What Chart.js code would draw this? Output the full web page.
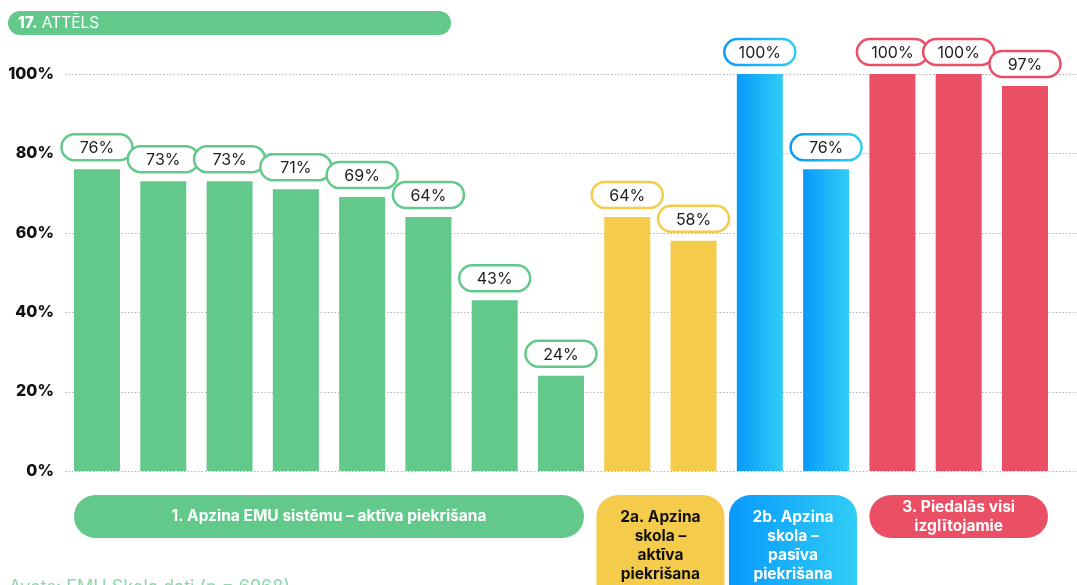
<!DOCTYPE html>
<html>
<head>
<meta charset="utf-8">
<script src="https://cdn.jsdelivr.net/npm/chart.js@4/dist/chart.umd.min.js"></script>
<style>
  html,body{margin:0;padding:0;background:#fff;overflow:hidden;}
  #wrap{position:relative;width:1077px;height:585px;}
  #c{position:absolute;left:0;top:0;}
  #title{position:absolute;left:8px;top:11px;width:443px;height:24px;border-radius:12px;background:#63c98b;color:#fff;
    font-family:Inter,"Noto Sans",sans-serif;font-size:15.5px;line-height:24px;padding-left:10px;box-sizing:border-box;}
  #title b{font-weight:800;}
  #src{position:absolute;left:9px;top:578px;font-family:Inter,"Noto Sans",sans-serif;font-size:18px;line-height:18px;color:#8fd7ab;white-space:nowrap;}
</style>
</head>
<body>
<div id="wrap">
  <canvas id="c" width="1077" height="585"></canvas>
  <div id="title"><b>17.</b> ATTĒLS</div>
  <div id="src">Avots: EMU Skola dati (n = 6968)</div>
</div>
<script>
// ---- data ----
const groupNames = [
  ['1. Apzina EMU sistēmu – aktīva piekrišana'],
  ['2a. Apzina', 'skola –', 'aktīva', 'piekrišana'],
  ['2b. Apzina', 'skola –', 'pasīva', 'piekrišana'],
  ['3. Piedalās visi', 'izglītojamie']
];
const group1Values = [76, 73, 73, 71, 69, 64, 43, 24];
const group2aValues = [64, 58];
const group2bValues = [100, 76];
const group3Values = [100, 100, 97];
const yTicks = [0, 20, 40, 60, 80, 100];

// ---- styles ----
const groupStyles = [
  {fill: '#63c98b', border: '#63c98b', text: '#ffffff'},
  {fill: '#f5cb4b', border: '#f5cb4b', text: '#111111'},
  {fill: ['#0899fb', '#30cdf5'], border: '#1aa6f8', text: '#ffffff'},
  {fill: '#eb4f65', border: '#eb4f65', text: '#ffffff'}
];
const groupValueSets = [group1Values, group2aValues, group2bValues, group3Values];

const values = [];
const categories = [];
const barGroup = [];
groupValueSets.forEach((arr, g) => arr.forEach((v, k) => {
  values.push(v);
  categories.push('G' + (g + 1) + '-' + (k + 1));
  barGroup.push(g);
}));

const BAR_PCT = 0.694;
const FONT = 'Inter, "Noto Sans", sans-serif';

function barFill(c) {
  const st = groupStyles[barGroup[c.dataIndex]];
  if (!Array.isArray(st.fill)) return st.fill;
  const xs = c.chart.scales.x;
  if (!xs || !xs.width) return st.fill[0];
  const cx = xs.getPixelForValue(c.dataIndex);
  const half = xs.width / categories.length * BAR_PCT / 2;
  const g = c.chart.ctx.createLinearGradient(cx - half, 0, cx + half, 0);
  g.addColorStop(0, st.fill[0]);
  g.addColorStop(1, st.fill[1]);
  return g;
}

function roundRect(ctx, x, y, w, h, r) {
  ctx.beginPath();
  ctx.moveTo(x + r, y);
  ctx.lineTo(x + w - r, y);
  ctx.arcTo(x + w, y, x + w, y + r, r);
  ctx.lineTo(x + w, y + h - r);
  ctx.arcTo(x + w, y + h, x + w - r, y + h, r);
  ctx.lineTo(x + r, y + h);
  ctx.arcTo(x, y + h, x, y + h - r, r);
  ctx.lineTo(x, y + r);
  ctx.arcTo(x, y, x + r, y, r);
  ctx.closePath();
}

const gridPlugin = {
  id: 'dotGrid',
  beforeDatasetsDraw(chart) {
    const ctx = chart.ctx, ys = chart.scales.y;
    ctx.save();
    ctx.strokeStyle = '#b5b5b5';
    ctx.lineWidth = 1;
    ctx.setLineDash([1.5, 2]);
    ys.ticks.forEach(t => {
      const y = Math.round(ys.getPixelForValue(t.value)) + 0.5;
      ctx.beginPath();
      ctx.moveTo(65, y);
      ctx.lineTo(chart.width, y);
      ctx.stroke();
    });
    ctx.restore();
  }
};

const labelPlugin = {
  id: 'valuePills',
  afterDatasetsDraw(chart) {
    const ctx = chart.ctx;
    const meta = chart.getDatasetMeta(0);
    ctx.save();
    meta.data.forEach((bar, i) => {
      const st = groupStyles[barGroup[i]];
      const w = 71, h = 26;
      const x = bar.x - w / 2, y = bar.y - 9 - h;
      roundRect(ctx, x, y, w, h, 13);
      ctx.fillStyle = '#fff';
      ctx.fill();
      ctx.lineWidth = 2.5;
      if (Array.isArray(st.fill)) {
        const g = ctx.createLinearGradient(x, 0, x + w, 0);
        g.addColorStop(0, st.fill[0]); g.addColorStop(1, st.fill[1]);
        ctx.strokeStyle = g;
      } else ctx.strokeStyle = st.border;
      ctx.stroke();
      ctx.fillStyle = '#1e1e1e';
      ctx.font = '400 16px ' + FONT;
      ctx.textAlign = 'center';
      ctx.textBaseline = 'middle';
      ctx.fillText(values[i] + '%', bar.x, y + h / 2 + 1);
    });
    ctx.restore();
  }
};

const groupPlugin = {
  id: 'groupPills',
  afterDraw(chart) {
    const ctx = chart.ctx, xs = chart.scales.x;
    const step = xs.width / categories.length;
    const half = step * BAR_PCT / 2;
    let idx = 0;
    ctx.save();
    groupValueSets.forEach((arr, g) => {
      const st = groupStyles[g];
      const first = idx, last = idx + arr.length - 1;
      idx += arr.length;
      let x0 = xs.getPixelForValue(first) - half;
      let x1 = xs.getPixelForValue(last) + half;
      const minW = 128;
      if (x1 - x0 < minW) {
        const cx = (x0 + x1) / 2;
        x0 = cx - minW / 2; x1 = cx + minW / 2;
      }
      const lines = groupNames[g];
      const top = 495;
      const h = lines.length > 2 ? 120 : 43;
      roundRect(ctx, x0, top, x1 - x0, h, 21.5);
      if (Array.isArray(st.fill)) {
        const gr = ctx.createLinearGradient(x0, 0, x1, 0);
        gr.addColorStop(0, st.fill[0]); gr.addColorStop(1, st.fill[1]);
        ctx.fillStyle = gr;
      } else ctx.fillStyle = st.fill;
      ctx.fill();
      ctx.fillStyle = st.text;
      ctx.font = '700 15.5px ' + FONT;
      ctx.textAlign = 'center';
      ctx.textBaseline = 'middle';
      const lh = 19;
      const startY = lines.length > 2 ? 517 : 516.5 - (lines.length - 1) * lh / 2;
      lines.forEach((t, k) => ctx.fillText(t, (x0 + x1) / 2, startY + k * lh));
    });
    ctx.restore();
  }
};

new Chart(document.getElementById('c'), {
  type: 'bar',
  data: {
    labels: categories,
    datasets: [{
      data: values,
      backgroundColor: barFill,
      borderWidth: 0,
      barPercentage: BAR_PCT,
      categoryPercentage: 1
    }]
  },
  options: {
    responsive: false,
    animation: false,
    layout: {padding: {top: 74, bottom: 114, left: 0, right: 18.9}},
    plugins: {legend: {display: false}, tooltip: {enabled: false}},
    scales: {
      x: {display: false},
      y: {
        min: 0, max: 100,
        afterFit(s) { s.width = 63.86; },
        afterBuildTicks(s) { s.ticks = yTicks.map(v => ({value: v})); },
        grid: {display: false, drawTicks: false},
        border: {display: false},
        ticks: {
          padding: 10,
          color: '#111',
          font: {family: FONT, size: 16, weight: '800'},
          callback: v => v + '%'
        }
      }
    }
  },
  plugins: [gridPlugin, labelPlugin, groupPlugin]
});
</script>
</body>
</html>
